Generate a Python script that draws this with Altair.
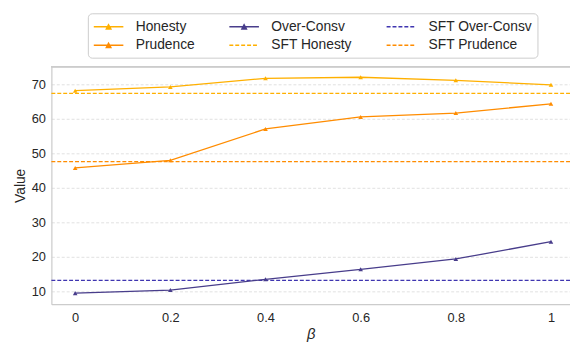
import altair as alt
import pandas as pd

# ---- data ----
betas = [0, 0.2, 0.4, 0.6, 0.8, 1.0]
honesty = [68.2, 69.3, 71.8, 72.1, 71.2, 69.9]
prudence = [45.8, 48.0, 57.1, 60.6, 61.7, 64.4]
over_consv = [9.5, 10.4, 13.5, 16.4, 19.4, 24.4]
sft_names = ["SFT Honesty", "SFT Prudence", "SFT Over-Consv"]
sft_values = [67.4, 47.6, 13.2]

legend_order = ["Honesty", "Prudence", "Over-Consv",
                "SFT Honesty", "SFT Over-Consv", "SFT Prudence"]
colors = ["#FFB000", "#FF8C00", "#483D8B", "#FFB000", "#3F35B0", "#FF8C00"]
dashed = [False, False, False, True, True, True]

FONT = "Liberation Sans"
TXT = "#262626"

rows = []
for name, vals in [("Honesty", honesty), ("Prudence", prudence), ("Over-Consv", over_consv)]:
    for b, v in zip(betas, vals):
        rows.append({"beta": b, "series": name, "value": v})
df = pd.DataFrame(rows)
sft_df = pd.DataFrame({"series": sft_names, "value": sft_values})
leg_df = pd.DataFrame({"series": legend_order})

tri_path = "M-1,0H3M0.7,0.28L1,-0.28L1.3,0.28Z"
line_path = "M-1,0H3"
shapes = [line_path if d else tri_path for d in dashed]
dashes = [[4, 2] if d else [1, 0] for d in dashed]

color_scale = alt.Scale(domain=legend_order, range=colors)
x_scale = alt.Scale(domain=[-0.05, 1.04], nice=False, zero=False)
y_scale = alt.Scale(domain=[6.3, 75.2], nice=False, zero=False)

x_axis = alt.Axis(values=betas, format="~g", grid=False, ticks=False,
                  domainColor="#cccccc", domainWidth=1.25,
                  labelFontSize=13, labelPadding=8, labelColor=TXT, labelFont=FONT,
                  title="β", titleFontStyle="italic", titleFontSize=15,
                  titleFontWeight="normal", titleColor=TXT, titleFont=FONT, titlePadding=2)
y_axis = alt.Axis(values=[10, 20, 30, 40, 50, 60, 70], grid=True, gridDash=[3, 2],
                  gridColor="#dddddd", gridWidth=0.9, ticks=False,
                  domainColor="#cccccc", domainWidth=1.25,
                  labelFontSize=13, labelPadding=6, labelColor=TXT, labelFont=FONT,
                  title="Value", titleFontSize=14, titleFontWeight="normal",
                  titleColor=TXT, titleFont=FONT, titlePadding=4)

base = alt.Chart(df)

lines = base.mark_line(strokeWidth=1.3).encode(
    x=alt.X("beta:Q", scale=x_scale, axis=x_axis),
    y=alt.Y("value:Q", scale=y_scale, axis=y_axis),
    color=alt.Color("series:N", scale=color_scale, legend=None),
)

points = base.mark_point(shape="triangle-up", filled=True, size=22, opacity=1).encode(
    x=alt.X("beta:Q", scale=x_scale),
    y=alt.Y("value:Q", scale=y_scale),
    color=alt.Color("series:N", scale=color_scale, legend=None),
)

rules = alt.Chart(sft_df).mark_rule(strokeDash=[4, 2], strokeWidth=1.3).encode(
    y=alt.Y("value:Q", scale=y_scale),
    color=alt.Color("series:N", scale=color_scale, legend=None),
)

top_frame = alt.Chart(leg_df).mark_rule(color="#cccccc", strokeWidth=1.25).encode(
    y=alt.value(0)
)

legend = alt.Legend(
    title=None, orient="none", legendX=37, legendY=-54, columns=3,
    symbolSize=225, symbolStrokeWidth=1.5, symbolOpacity=1,
    labelFontSize=14, labelFont=FONT, labelColor=TXT, labelOffset=26.5,
    columnPadding=31.5, rowPadding=3, padding=5,
    strokeColor="#cccccc", cornerRadius=4, fillColor="white",
)

legend_layer = alt.Chart(leg_df).transform_filter("false").mark_point(
    filled=True, opacity=1, strokeWidth=1.5
).encode(
    fill=alt.Fill("series:N", scale=alt.Scale(domain=legend_order, range=colors),
                  legend=legend, sort=legend_order),
    stroke=alt.Stroke("series:N", scale=alt.Scale(domain=legend_order, range=colors),
                      legend=legend, sort=legend_order),
    shape=alt.Shape("series:N", scale=alt.Scale(domain=legend_order, range=shapes),
                    legend=legend, sort=legend_order),
    strokeDash=alt.StrokeDash("series:N", scale=alt.Scale(domain=legend_order, range=dashes),
                              legend=legend, sort=legend_order),
)

chart = alt.layer(top_frame, rules, lines, points, legend_layer).resolve_scale(
    fill="independent", stroke="independent", shape="independent", strokeDash="independent"
).properties(
    width=526, height=241,
    autosize="none",
    padding={"left": 44, "top": 57, "right": 0, "bottom": 36},
).configure_view(stroke=None)

chart.save("out.html", embed_options={"renderer": "svg", "actions": False})
